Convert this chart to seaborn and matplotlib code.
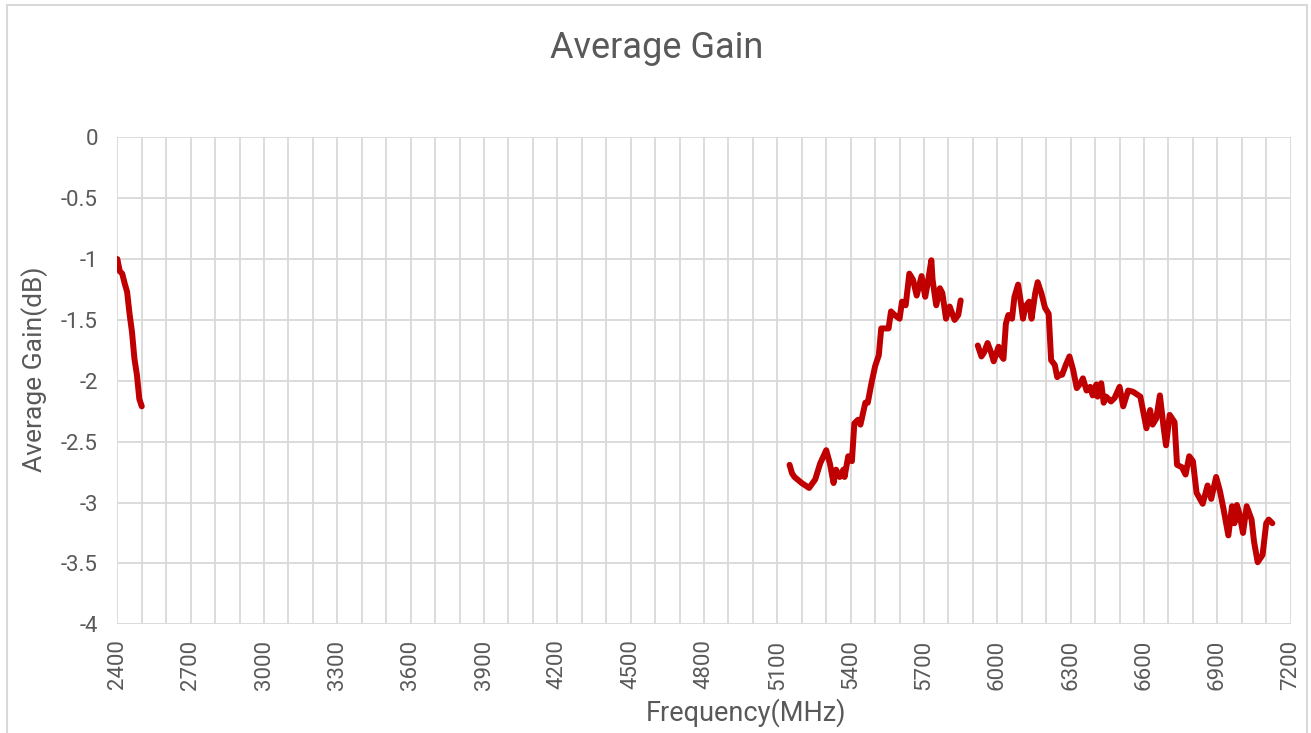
import pandas as pd
import matplotlib.pyplot as plt
import seaborn as sns
from matplotlib.ticker import MultipleLocator
from matplotlib.patches import Rectangle

# Band 1 (2.4 GHz)
freq_b1 = [2400, 2410, 2420, 2430, 2440, 2450, 2460, 2470, 2480, 2490, 2500]
gain_b1 = [-1.00, -1.10, -1.12, -1.20, -1.27, -1.45, -1.60, -1.82, -1.95, -2.15, -2.21]

# Band 2 (5.1 - 5.85 GHz)
freq_b2 = [5150, 5160, 5170, 5200, 5230, 5255, 5275, 5300, 5315, 5330,
           5340, 5355, 5370, 5375, 5390, 5405, 5415, 5430, 5440, 5460,
           5470, 5485, 5500, 5515, 5525, 5540, 5555, 5565, 5580, 5600,
           5610, 5625, 5640, 5655, 5670, 5690, 5705, 5715, 5730, 5735,
           5750, 5765, 5775, 5790, 5805, 5825, 5840, 5850]
gain_b2 = [-2.69, -2.76, -2.79, -2.84, -2.88, -2.81, -2.68, -2.57, -2.68, -2.84,
           -2.73, -2.79, -2.73, -2.79, -2.62, -2.66, -2.35, -2.32, -2.36, -2.18,
           -2.18, -2.02, -1.88, -1.79, -1.57, -1.57, -1.57, -1.43, -1.46, -1.49,
           -1.35, -1.38, -1.12, -1.17, -1.30, -1.14, -1.31, -1.20, -1.01, -1.17,
           -1.38, -1.24, -1.28, -1.49, -1.39, -1.50, -1.46, -1.34]

# Band 3 (5.92 - 7.125 GHz)
freq_b3 = [5920, 5935, 5945, 5960, 5975, 5985, 6005, 6015, 6025, 6035,
           6045, 6060, 6070, 6085, 6095, 6105, 6115, 6130, 6140, 6155,
           6165, 6180, 6195, 6210, 6220, 6235, 6245, 6255, 6265, 6280,
           6295, 6310, 6325, 6340, 6350, 6365, 6380, 6390, 6405, 6410,
           6425, 6435, 6445, 6465, 6480, 6500, 6515, 6535, 6555, 6585,
           6610, 6625, 6635, 6650, 6665, 6680, 6690, 6705, 6725, 6735,
           6755, 6770, 6785, 6800, 6815, 6840, 6860, 6875, 6895, 6910,
           6925, 6945, 6960, 6970, 6980, 6990, 7005, 7020, 7040, 7050,
           7065, 7085, 7100, 7110, 7125]
gain_b3 = [-1.71, -1.80, -1.77, -1.69, -1.77, -1.84, -1.72, -1.79, -1.82, -1.53,
           -1.46, -1.49, -1.31, -1.21, -1.34, -1.49, -1.39, -1.35, -1.49, -1.28,
           -1.19, -1.28, -1.40, -1.45, -1.83, -1.87, -1.97, -1.95, -1.95, -1.87,
           -1.80, -1.91, -2.06, -2.02, -1.98, -2.08, -2.05, -2.12, -2.03, -2.13,
           -2.02, -2.18, -2.13, -2.17, -2.14, -2.05, -2.21, -2.08, -2.09, -2.13,
           -2.39, -2.24, -2.36, -2.31, -2.12, -2.38, -2.53, -2.28, -2.34, -2.69,
           -2.71, -2.77, -2.62, -2.66, -2.92, -3.01, -2.86, -2.97, -2.79, -2.90,
           -3.05, -3.27, -3.03, -3.17, -3.02, -3.09, -3.25, -3.03, -3.14, -3.32,
           -3.49, -3.43, -3.17, -3.14, -3.17]

df = pd.concat([
    pd.DataFrame({"freq": freq_b1, "gain": gain_b1, "band": "b1"}),
    pd.DataFrame({"freq": freq_b2, "gain": gain_b2, "band": "b2"}),
    pd.DataFrame({"freq": freq_b3, "gain": gain_b3, "band": "b3"}),
], ignore_index=True)

sns.set_theme(style="white")
plt.rcParams["font.family"] = ["Roboto", "DejaVu Sans"]

grey = "#595959"
grid_c = "#D9D9D9"

fig = plt.figure(figsize=(13.11, 7.33), dpi=100)
ax = fig.add_axes([0.0895, 0.1483, 0.8950, 0.6644])

sns.lineplot(data=df, x="freq", y="gain", units="band", estimator=None,
             sort=False, color="#C00000", linewidth=4.3, ax=ax)

ax.set_xlim(2400, 7200)
ax.set_ylim(-4, 0)
ax.xaxis.set_major_locator(MultipleLocator(300))
ax.xaxis.set_minor_locator(MultipleLocator(100))
ax.set_yticks([0, -0.5, -1, -1.5, -2, -2.5, -3, -3.5, -4])
ax.set_yticklabels(["0", "-0.5", "-1", "-1.5", "-2", "-2.5", "-3", "-3.5", "-4"])
ax.grid(True, which="both", color=grid_c, linewidth=1.3)
ax.set_axisbelow(True)
for s in ax.spines.values():
    s.set_visible(False)

ax.tick_params(axis="x", which="both", length=0, labelsize=16, labelcolor=grey,
               labelrotation=90, pad=11)
ax.tick_params(axis="y", length=0, labelsize=16, labelcolor=grey, pad=14)

ax.set_xlabel("")
ax.set_ylabel("")
fig.text(746 / 1311, 1 - 713 / 733, "Frequency(MHz)", ha="center", va="center",
         fontsize=19.5, color=grey)
fig.text(35 / 1311, 1 - 369 / 733, "Average Gain(dB)", ha="center", va="center",
         rotation=90, fontsize=19, color=grey)
fig.text(657 / 1311, 1 - 48 / 733, "Average Gain", ha="center", va="center",
         fontsize=26, color=grey)

# chart border
fig.patches.append(Rectangle((7 / 1311, -0.05), 1299.5 / 1311, 1.043,
                             transform=fig.transFigure, fill=False,
                             edgecolor=grid_c, linewidth=1.5))

plt.savefig("out.png", dpi=100)
